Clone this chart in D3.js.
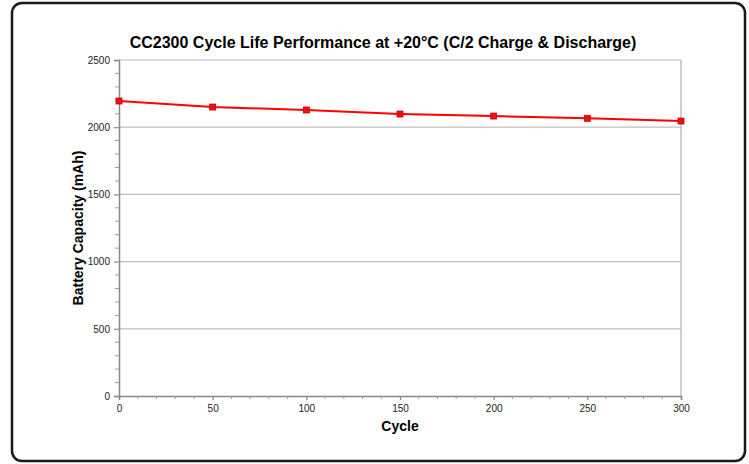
<!DOCTYPE html>
<html><head><meta charset="utf-8">
<script src="https://cdn.jsdelivr.net/npm/d3@7"></script>
<style>body{margin:0;background:#fff}svg{display:block}text{font-family:"Liberation Sans",Arial,sans-serif}</style>
</head><body><svg id="c" width="749" height="464"></svg>
<script>
const cycles = [0, 50, 100, 150, 200, 250, 300];
const capacity = [2195, 2150, 2128, 2098, 2083, 2066, 2046];
const yTicks = [0, 500, 1000, 1500, 2000, 2500];
const xTicks = [0, 50, 100, 150, 200, 250, 300];
const title = "CC2300 Cycle Life Performance at +20°C (C/2 Charge & Discharge)";
const xLabel = "Cycle";
const yLabel = "Battery Capacity (mAh)";

const svg = d3.select("#c");
const m = {l:119, r:681, t:60, b:396};
const x = d3.scaleLinear().domain([0,300]).range([m.l, m.r]);
const y = d3.scaleLinear().domain([0,2500]).range([m.b, m.t]);

svg.append("rect").attr("x",12).attr("y",3).attr("width",733).attr("height",458)
  .attr("rx",10).attr("fill","#fff").attr("stroke","#1a1a1a").attr("stroke-width",2.5);

svg.append("text").attr("x",383).attr("y",48).attr("text-anchor","middle")
  .attr("font-size",16).attr("font-weight","bold").text(title);

// gridlines
svg.append("g").selectAll("line").data(yTicks.filter(d=>d>0)).join("line")
  .attr("x1",m.l).attr("x2",m.r).attr("y1",d=>y(d)).attr("y2",d=>y(d))
  .attr("stroke","#c0c0c0").attr("stroke-width",1.2);
svg.append("line").attr("x1",m.r).attr("x2",m.r).attr("y1",m.t).attr("y2",m.b)
  .attr("stroke","#b0b0b0").attr("stroke-width",1.2);

// y axis
const ya = svg.append("g").attr("transform",`translate(${m.l},0)`)
  .call(d3.axisLeft(y).tickValues(yTicks).tickSize(5).tickPadding(4).tickFormat(d3.format("d")));
ya.select(".domain").attr("stroke","#888").attr("stroke-width",1.5);
ya.selectAll(".tick line").attr("stroke","#888").attr("stroke-width",1.2);
ya.selectAll("text").attr("font-size",10).attr("fill","#222").attr("font-family","Liberation Sans, Arial");
const yMinor = d3.range(0,2501,100).filter(d=>d%500!==0);
svg.append("g").selectAll("line").data(yMinor).join("line")
  .attr("x1",m.l-4).attr("x2",m.l).attr("y1",d=>y(d)).attr("y2",d=>y(d))
  .attr("stroke","#999").attr("stroke-width",1);

// x axis
const xa = svg.append("g").attr("transform",`translate(0,${m.b})`)
  .call(d3.axisBottom(x).tickValues(xTicks).tickSize(4).tickPadding(5).tickFormat(d3.format("d")));
xa.select(".domain").attr("stroke","#888").attr("stroke-width",1.5);
xa.selectAll(".tick line").attr("stroke","#888").attr("stroke-width",1.2);
xa.selectAll("text").attr("font-size",10).attr("fill","#222").attr("font-family","Liberation Sans, Arial");
const xMinor = d3.range(0,301,10).filter(d=>d%50!==0);
svg.append("g").selectAll("line").data(xMinor).join("line")
  .attr("x1",d=>x(d)).attr("x2",d=>x(d)).attr("y1",m.b).attr("y2",m.b+3)
  .attr("stroke","#999").attr("stroke-width",1);

svg.append("text").attr("x",400).attr("y",431).attr("text-anchor","middle")
  .attr("font-size",14).attr("font-weight","bold").text(xLabel);
svg.append("text").attr("transform",`translate(83,228) rotate(-90)`).attr("text-anchor","middle")
  .attr("font-size",14).attr("font-weight","bold").text(yLabel);

// series
const data = cycles.map((c,i)=>({c, v:capacity[i]}));
svg.append("path").datum(data)
  .attr("d", d3.line().x(d=>x(d.c)).y(d=>y(d.v)))
  .attr("fill","none").attr("stroke","#ff0000").attr("stroke-width",2);
svg.append("g").selectAll("rect").data(data).join("rect")
  .attr("x",d=>x(d.c)-3).attr("y",d=>y(d.v)-3).attr("width",6).attr("height",6)
  .attr("fill","#ee1111").attr("stroke","#cc0000").attr("stroke-width",0.8);
</script></body></html>
